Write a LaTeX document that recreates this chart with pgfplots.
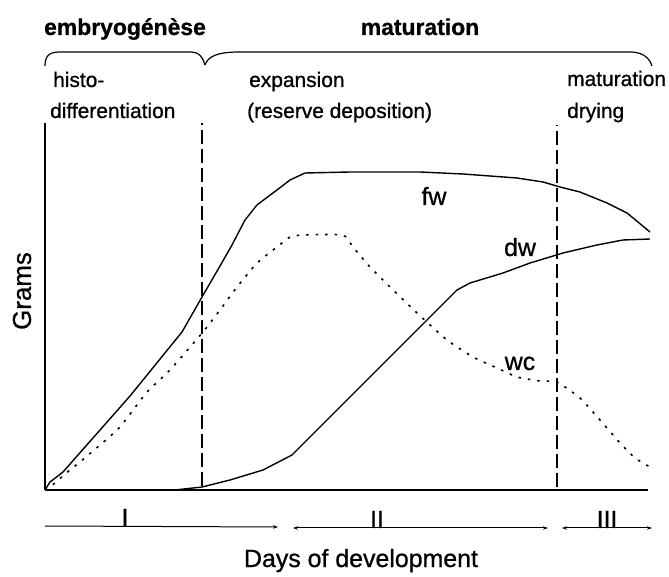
\documentclass[border=0pt]{standalone}
\usepackage{fontspec}
\setmainfont{Liberation Sans}[FakeBold=0.8]
\usepackage{pgfplots}
\pgfplotsset{compat=1.18}
\usetikzlibrary{arrows.meta}
\begin{document}
\begin{tikzpicture}
\begin{axis}[x=1bp,y=1bp,xmin=45,xmax=648,ymin=0,ymax=367,
  axis lines=left, axis line style={-, line width=1.3bp}, ticks=none, clip=false]
\path (axis cs:0,-87) rectangle (axis cs:669,490);
% fw
\addplot[black, line width=1.4bp] coordinates {
(45,0)(50,8)(63,18)(130,94)(182,158)(202,193)(220,224)(232,245)(245,270)(257,285)(277,300)(290,310)(305,317)(350,318)(420,318)(463,316)(517,312)(543,308)(560,303)(580,298)(607,287)(627,277)(650,258)};
% wc
\addplot[black, line width=1.6bp, dash pattern=on 2.5bp off 7bp, smooth, tension=0.3] coordinates {
(45,0)(55,7)(65,16)(80,28)(100,45)(120,63)(147,98)(170,120)(203,158)(220,180)(237,203)(257,227)(277,243)(290,253)(303,255)(343,255)(353,243)(370,223)(390,203)(417,177)(447,150)(473,133)(497,122)(517,113)(540,109)(557,108)(580,92)(600,70)(620,47)(635,32)(650,23)};
% dw
\addplot[black, line width=1.4bp] coordinates {
(45,0)(175,0)(202,3)(230,10)(263,20)(292,35)(457,200)(470,207)(503,217)(530,227)(563,237)(597,245)(623,250)(650,251)};
% phase boundaries
\draw[line width=1.3bp, dash pattern=on 14bp off 5bp] (axis cs:202,4) -- (axis cs:202,367);
\draw[line width=1.3bp, dash pattern=on 14bp off 5bp] (axis cs:557,3) -- (axis cs:557,365);
% braces
\draw[line width=1.2bp] (axis cs:45,424) .. controls (axis cs:45,434) and (axis cs:49,438) .. (axis cs:60,438) -- (axis cs:190,438) .. controls (axis cs:200,438) and (axis cs:203,432) .. (axis cs:205,425);
\draw[line width=1.2bp] (axis cs:205,425) .. controls (axis cs:208,434) and (axis cs:218,438) .. (axis cs:240,438) -- (axis cs:630,438) .. controls (axis cs:645,438) and (axis cs:650,430) .. (axis cs:652,424);
% top labels
\node[anchor=base, inner sep=0, font=\fontsize{23}{26}\selectfont\bfseries] at (axis cs:125,455) {embryogénèse};
\node[anchor=base, inner sep=0, font=\fontsize{23}{26}\selectfont\bfseries] at (axis cs:420,455) {maturation};
\node[anchor=base west, inner sep=0, font=\fontsize{21}{24}\selectfont] at (axis cs:53,403) {histo-};
\node[anchor=base west, inner sep=0, font=\fontsize{21}{24}\selectfont] at (axis cs:50,372) {differentiation};
\node[anchor=base west, inner sep=0, font=\fontsize{21}{24}\selectfont] at (axis cs:249,403) {expansion};
\node[anchor=base west, inner sep=0, font=\fontsize{21}{24}\selectfont] at (axis cs:247,372) {(reserve deposition)};
\node[anchor=base west, inner sep=0, font=\fontsize{21}{24}\selectfont] at (axis cs:567,404) {maturation};
\node[anchor=base west, inner sep=0, font=\fontsize{21}{24}\selectfont] at (axis cs:567,372) {drying};
% curve labels
\node[anchor=base, inner sep=0, font=\fontsize{25}{28}\selectfont] at (axis cs:434,285) {fw};
\node[anchor=base, inner sep=0, font=\fontsize{25}{28}\selectfont] at (axis cs:520,234) {dw};
\node[anchor=base, inner sep=0, font=\fontsize{25}{28}\selectfont] at (axis cs:520,120) {wc};
% axis titles
\node[rotate=90, inner sep=0, font=\fontsize{26}{29}\selectfont] at (axis cs:22,199) {Grams};
\node[anchor=base, inner sep=0, font=\fontsize{25}{28}\selectfont] at (axis cs:361,-77) {Days of development};
% phases
\draw[line width=1bp, -{Stealth[length=5bp,width=3.5bp]}] (axis cs:45,-36) -- (axis cs:278,-37);
\draw[line width=1bp, {Stealth[length=5bp,width=3.5bp]}-{Stealth[length=5bp,width=3.5bp]}] (axis cs:293,-38) -- (axis cs:548,-38);
\draw[line width=1bp, {Stealth[length=5bp,width=3.5bp]}-{Stealth[length=5bp,width=3.5bp]}] (axis cs:562,-38) -- (axis cs:652,-38);
\node[anchor=base, inner sep=0, font=\fontsize{25}{28}\selectfont] at (axis cs:125,-36) {I};
\node[anchor=base, inner sep=0, font=\fontsize{25}{28}\selectfont] at (axis cs:377,-38) {II};
\node[anchor=base, inner sep=0, font=\fontsize{25}{28}\selectfont] at (axis cs:607,-38) {III};
\end{axis}
\end{tikzpicture}
\end{document}
